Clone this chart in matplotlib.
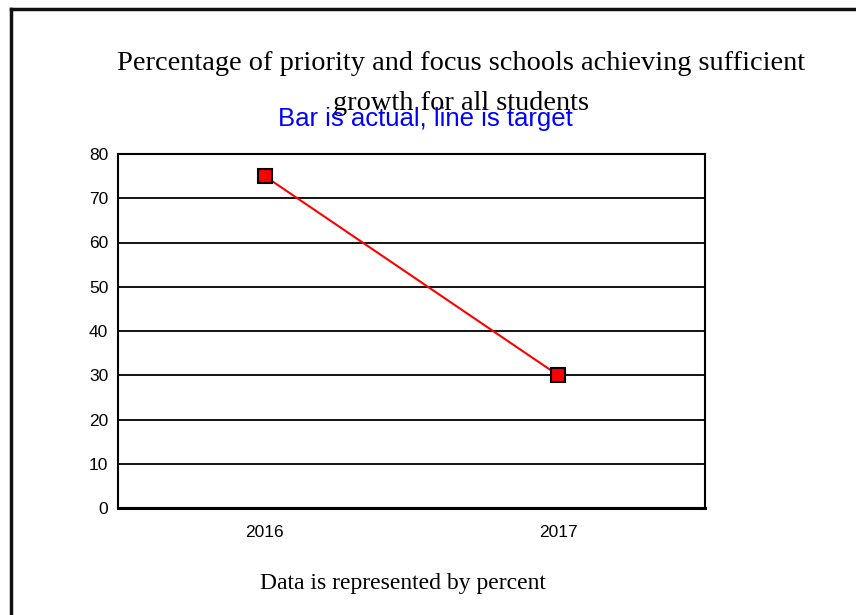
import matplotlib.pyplot as plt
from matplotlib.lines import Line2D

years = ["2016", "2017"]
target = [75, 30]
yticks = [0, 10, 20, 30, 40, 50, 60, 70, 80]

fig = plt.figure(figsize=(8.56, 6.15), dpi=100)
ax = fig.add_axes([118 / 856, 1 - 508 / 615, 587 / 856, 354 / 615])

x = [0.5, 1.5]
ax.plot(x, target, color="red", linewidth=1.5, marker="s", markersize=10,
        markerfacecolor="red", markeredgecolor="black", markeredgewidth=1.5, zorder=3)

ax.set_xlim(0, 2)
ax.set_ylim(0, 80)
ax.set_xticks(x)
ax.set_xticklabels(years, family="Liberation Sans", fontsize=12.5)
ax.set_yticks(yticks)
ax.set_yticklabels([str(v) for v in yticks], family="Liberation Sans", fontsize=12.5)
ax.tick_params(length=0, pad=7)
ax.tick_params(axis="x", pad=12)
ax.yaxis.grid(True, color="black", linewidth=1.3)
ax.set_axisbelow(True)
for s in ax.spines.values():
    s.set_linewidth(1.5)
ax.spines["bottom"].set_linewidth(2.2)

# slide frame (left and top edges)
fig.add_artist(Line2D([10.5 / 856, 10.5 / 856], [0, 1 - 9 / 615], color="#111111", linewidth=2.5))
fig.add_artist(Line2D([10.5 / 856, 1], [1 - 9 / 615, 1 - 9 / 615], color="#111111", linewidth=2.5))

fig.text(461 / 856, 1 - 63 / 615, "Percentage of priority and focus schools achieving sufficient",
         family="Liberation Serif", fontsize=20.4, ha="center", va="center")
fig.text(461 / 856, 1 - 104 / 615, "growth for all students",
         family="Liberation Serif", fontsize=20.4, ha="center", va="center")
fig.text(425 / 856, 1 - 119 / 615, "Bar is actual, line is target",
         family="Liberation Sans", fontsize=18.5, color="blue", ha="center", va="center")
fig.text(403 / 856, 1 - 584 / 615, "Data is represented by percent",
         family="Liberation Serif", fontsize=17, ha="center", va="center")

fig.savefig("out.png", dpi=100)
